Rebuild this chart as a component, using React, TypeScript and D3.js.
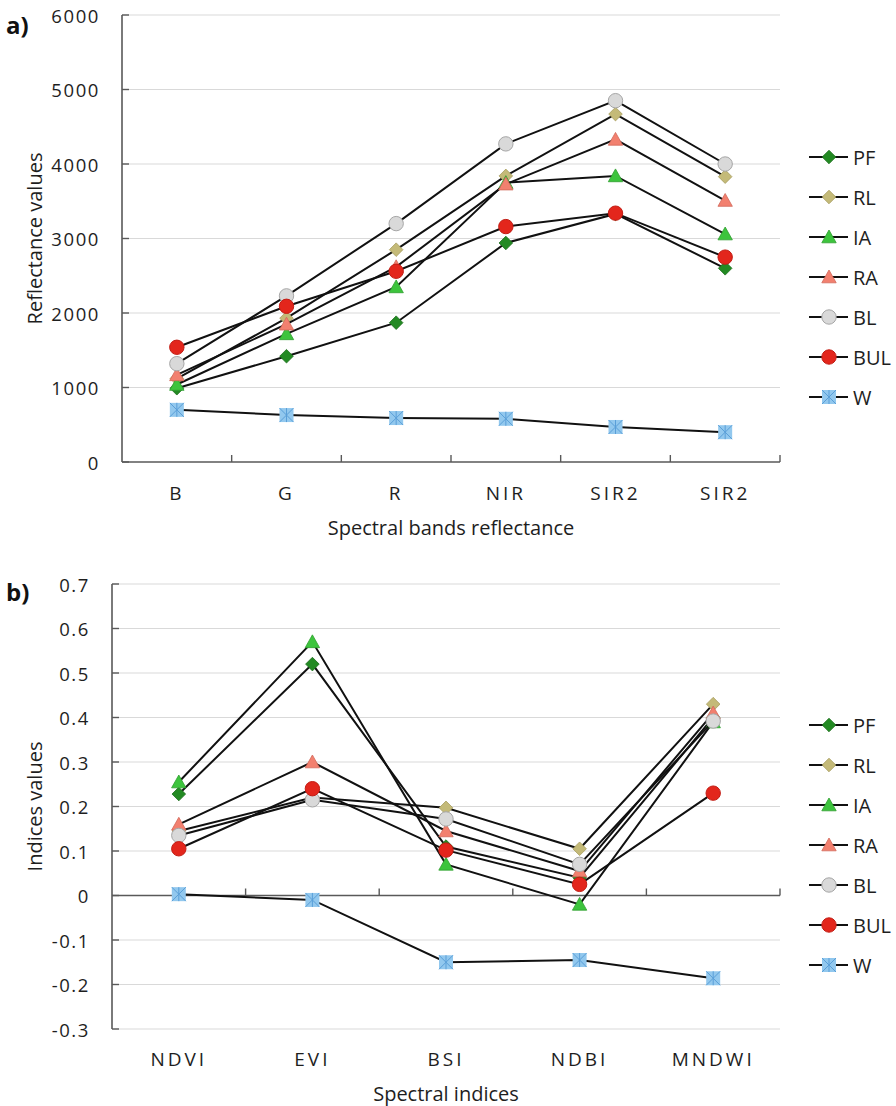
import React from "react";
import * as d3 from "d3";

// land cover classes
const classes = ["PF", "RL", "IA", "RA", "BL", "BUL", "W"];

// a) spectral bands reflectance
const bands = ["B", "G", "R", "NIR", "SIR2", "SIR2"];
const bandTicks = [0, 1000, 2000, 3000, 4000, 5000, 6000];
const reflPF = [990, 1420, 1870, 2940, 3330, 2600];
const reflRL = [1120, 1930, 2850, 3840, 4670, 3830];
const reflIA = [1040, 1720, 2350, 3750, 3840, 3060];
const reflRA = [1170, 1850, 2620, 3730, 4330, 3510];
const reflBL = [1320, 2230, 3200, 4270, 4850, 4000];
const reflBUL = [1540, 2090, 2560, 3160, 3340, 2750];
const reflW = [700, 630, 590, 580, 470, 400];

// b) spectral indices
const indices = ["NDVI", "EVI", "BSI", "NDBI", "MNDWI"];
const indexTicks = [-0.3, -0.2, -0.1, 0, 0.1, 0.2, 0.3, 0.4, 0.5, 0.6, 0.7];
const idxPF = [0.228, 0.52, 0.11, 0.04, 0.4];
const idxRL = [0.145, 0.22, 0.197, 0.105, 0.43];
const idxIA = [0.255, 0.57, 0.07, -0.02, 0.39];
const idxRA = [0.16, 0.3, 0.145, 0.055, 0.41];
const idxBL = [0.135, 0.215, 0.172, 0.07, 0.392];
const idxBUL = [0.105, 0.24, 0.102, 0.025, 0.23];
const idxW = [0.003, -0.01, -0.15, -0.145, -0.186];

const reflSeries = [reflPF, reflRL, reflIA, reflRA, reflBL, reflBUL, reflW];
const idxSeries = [idxPF, idxRL, idxIA, idxRA, idxBL, idxBUL, idxW];

const FONT = "'Open Sans', 'Noto Sans', sans-serif";
const TEXT = "#1e1e1e";

const markerStyle: Record<string, { shape: string; fill: string; stroke: string }> = {
  PF: { shape: "diamond", fill: "#238a23", stroke: "#1d6f1d" },
  RL: { shape: "diamond", fill: "#c4ba78", stroke: "#a79d5f" },
  IA: { shape: "triangle", fill: "#3dc43d", stroke: "#2e9e2e" },
  RA: { shape: "triangle", fill: "#f2806f", stroke: "#d2685a" },
  BL: { shape: "circle", fill: "#d9d9d9", stroke: "#a6a6a6" },
  BUL: { shape: "circle", fill: "#e3261c", stroke: "#c21d14" },
  W: { shape: "xsquare", fill: "#92c8ee", stroke: "#5a9fd8" },
};

function Marker({ name, x, y }: { name: string; x: number; y: number }) {
  const s = markerStyle[name];
  if (s.shape === "circle")
    return <circle cx={x} cy={y} r={7.2} fill={s.fill} stroke={s.stroke} strokeWidth={1} />;
  if (s.shape === "diamond")
    return (
      <path
        d={`M${x},${y - 6.8}L${x + 6.8},${y}L${x},${y + 6.8}L${x - 6.8},${y}Z`}
        fill={s.fill}
        stroke={s.stroke}
        strokeWidth={0.8}
      />
    );
  if (s.shape === "triangle")
    return (
      <path
        d={`M${x},${y - 7}L${x + 7.2},${y + 5.8}L${x - 7.2},${y + 5.8}Z`}
        fill={s.fill}
        stroke={s.stroke}
        strokeWidth={0.8}
      />
    );
  const h = 7;
  return (
    <g>
      <rect x={x - h} y={y - h} width={2 * h} height={2 * h} fill={s.fill} />
      <path
        d={`M${x - h},${y - h}L${x + h},${y + h}M${x + h},${y - h}L${x - h},${y + h}M${x},${y - h}L${x},${y + h}`}
        stroke={s.stroke}
        strokeWidth={1}
      />
    </g>
  );
}

type Frame = { left: number; right: number; top: number; bottom: number };

function Panel(props: {
  tag: string;
  tagY: number;
  categories: string[];
  series: number[][];
  domain: [number, number];
  ticks: number[];
  format: (v: number) => string;
  frame: Frame;
  labelY: number;
  titleY: number;
  xTitle: string;
  yTitle: string;
  legendTop: number;
}) {
  const { frame, categories, series } = props;
  const x = d3
    .scaleBand<number>()
    .domain(d3.range(categories.length))
    .range([frame.left, frame.right])
    .padding(0);
  const y = d3.scaleLinear().domain(props.domain).range([frame.bottom, frame.top]);
  const cx = (i: number) => (x(i) as number) + x.bandwidth() / 2;
  const line = d3
    .line<number>()
    .x((_, i) => cx(i))
    .y((v) => y(v));
  const y0 = y(0);
  const bounds = d3.range(1, categories.length + 1).map((i) => frame.left + i * x.step());
  const midY = (frame.top + frame.bottom) / 2;
  const midX = (frame.left + frame.right) / 2;

  return (
    <g fontFamily={FONT} fill={TEXT}>
      <text x={6} y={props.tagY} fontSize={24} fontWeight="bold" dominantBaseline="central" fill="#111">
        {props.tag}
      </text>
      {props.ticks
        .filter((t) => t !== 0)
        .map((t) => (
          <line key={t} x1={frame.left} x2={frame.right} y1={y(t)} y2={y(t)} stroke="#d9d9d9" strokeWidth={1.2} />
        ))}
      <line x1={frame.left} x2={frame.left} y1={frame.top} y2={frame.bottom} stroke="#595959" strokeWidth={1.6} />
      {props.ticks.map((t) => (
        <g key={"t" + t}>
          <line x1={frame.left} x2={frame.left + 7} y1={y(t)} y2={y(t)} stroke="#595959" strokeWidth={1.4} />
          <text
            x={frame.left - 22}
            y={y(t)}
            textAnchor="end"
            dominantBaseline="central"
            fontSize={18.5}
            letterSpacing={1.6}
          >
            {props.format(t)}
          </text>
        </g>
      ))}
      <line x1={frame.left} x2={frame.right} y1={y0} y2={y0} stroke="#595959" strokeWidth={1.6} />
      {bounds.map((b, i) => (
        <line key={"b" + i} x1={b} x2={b} y1={y0 - 7} y2={y0} stroke="#595959" strokeWidth={1.4} />
      ))}
      {categories.map((c, i) => (
        <text
          key={"c" + i}
          x={cx(i)}
          y={props.labelY}
          textAnchor="middle"
          dominantBaseline="central"
          fontSize={19}
          letterSpacing={3}
        >
          {c}
        </text>
      ))}
      <text x={midX} y={props.titleY} textAnchor="middle" dominantBaseline="central" fontSize={20}>
        {props.xTitle}
      </text>
      <text
        transform={`translate(34,${midY}) rotate(-90)`}
        textAnchor="middle"
        dominantBaseline="central"
        fontSize={20}
      >
        {props.yTitle}
      </text>
      {series.map((vals, si) => (
        <g key={"s" + si}>
          <path d={line(vals) || ""} fill="none" stroke="#111" strokeWidth={2} />
          {vals.map((v, i) => (
            <Marker key={i} name={classes[si]} x={cx(i)} y={y(v)} />
          ))}
        </g>
      ))}
      {classes.map((c, i) => {
        const ly = props.legendTop + i * 40;
        return (
          <g key={"l" + c}>
            <line x1={809} x2={848} y1={ly} y2={ly} stroke="#111" strokeWidth={2} />
            <Marker name={c} x={829} y={ly} />
            <text x={853} y={ly} dominantBaseline="central" fontSize={20}>
              {c}
            </text>
          </g>
        );
      })}
    </g>
  );
}

export default function App() {
  return (
    <div style={{ position: "absolute", left: 0, top: 0 }}>
      <svg width={896} height={1106} style={{ display: "block", background: "#fff" }}>
        <Panel
          tag="a)"
          tagY={24}
          categories={bands}
          series={reflSeries}
          domain={[0, 6000]}
          ticks={bandTicks}
          format={(v) => String(v)}
          frame={{ left: 122, right: 780, top: 15, bottom: 462 }}
          labelY={493}
          titleY={527}
          xTitle="Spectral bands reflectance"
          yTitle="Reflectance values"
          legendTop={157}
        />
        <Panel
          tag="b)"
          tagY={591}
          categories={indices}
          series={idxSeries}
          domain={[-0.3, 0.7]}
          ticks={indexTicks}
          format={(v) => (Math.abs(v) < 1e-9 ? "0" : v.toFixed(1))}
          frame={{ left: 112, right: 780, top: 584, bottom: 1029 }}
          labelY={1059}
          titleY={1093}
          xTitle="Spectral indices"
          yTitle="Indices values"
          legendTop={725}
        />
      </svg>
    </div>
  );
}
